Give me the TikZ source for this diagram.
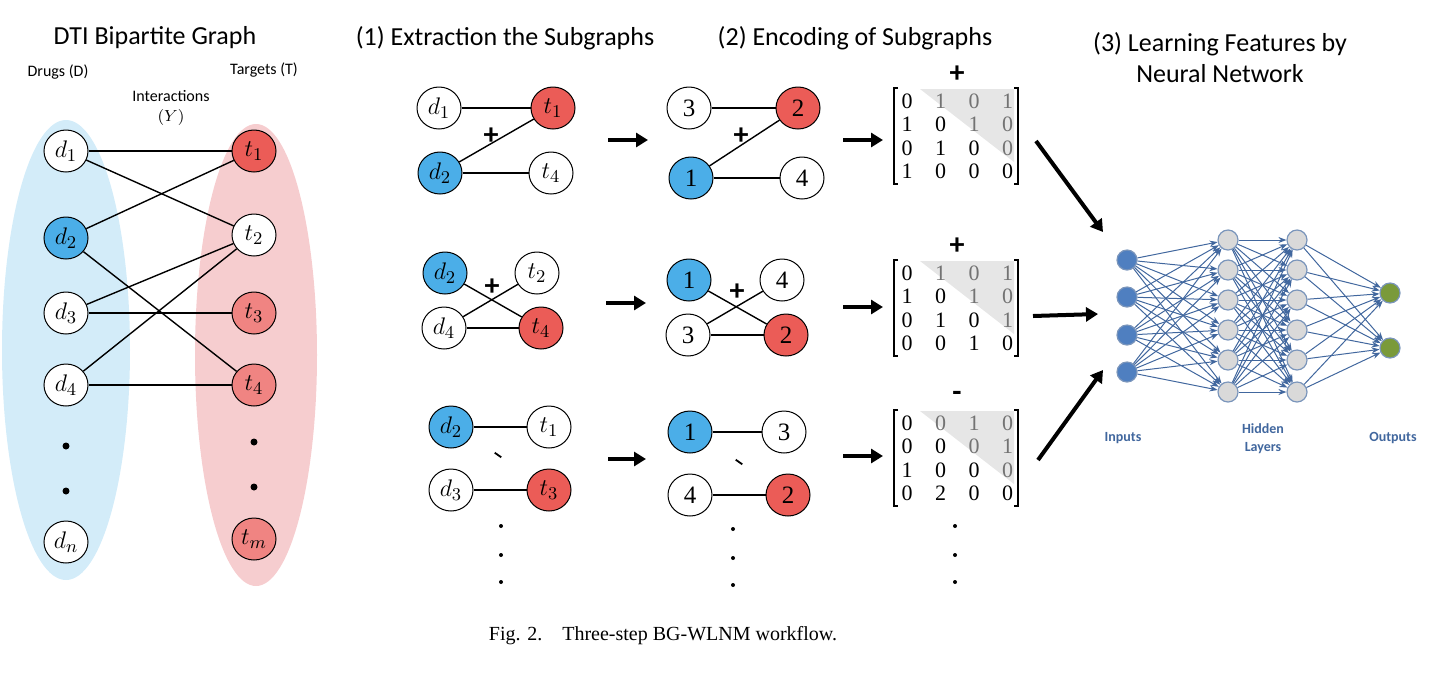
\documentclass[tikz,border=0pt]{standalone}
\usepackage{fontspec}
\setmainfont{Carlito}
\newfontfamily\capfont{Liberation Serif}
\usepackage{amsmath}
\usetikzlibrary{arrows.meta,shapes.geometric}
\definecolor{drugblue}{HTML}{4BAEE8}
\definecolor{tgtred}{HTML}{EB5C57}
\definecolor{tgtpink}{HTML}{F08482}
\definecolor{setblue}{HTML}{D3ECF9}
\definecolor{setpink}{HTML}{F6CDCF}
\definecolor{nnblue}{HTML}{4F7FC0}
\definecolor{nnedge}{HTML}{41679E}
\definecolor{nngray}{HTML}{D9D9D9}
\definecolor{nngreen}{HTML}{7A9A3A}
\definecolor{triag}{HTML}{E6E6E6}
\tikzset{
  vert/.style={ellipse, draw, line width=0.5pt, minimum width=22pt, minimum height=21pt, inner sep=0pt, font=\capfont\fontsize{12.5}{14}\selectfont},
  drug/.style={vert, fill=drugblue},
  tgt/.style={vert, fill=tgtred},
  tgtl/.style={vert, fill=tgtpink},
  plain/.style={vert, fill=white},
  link/.style={line width=0.7pt},
  title/.style={font=\fontsize{13}{15.5}\selectfont, align=center},
  small/.style={font=\fontsize{8}{10}\selectfont, align=center},
  bigarrow/.style={-{Triangle[length=6pt,width=7pt]}, line width=2pt},
  entry/.style={font=\capfont\fontsize{11}{12}\selectfont, inner sep=0pt},
  sign/.style={font=\fontsize{15}{16}\selectfont\bfseries, inner sep=0pt},
  tick/.style={inner sep=0pt, rotate=-35},
  neuron/.style={circle, draw=nnedge!70, line width=0.6pt, minimum size=10pt, inner sep=0pt},
  syn/.style={-{Stealth[length=4pt]}, draw=nnedge, line width=0.5pt},
  dot/.style={circle, fill=black, inner sep=0pt, minimum size=2pt},
  bdot/.style={circle, fill=black, inner sep=0pt, minimum size=3.5pt}
}
\begin{document}
\begin{tikzpicture}[x=0.5pt, y=-0.5pt]
\useasboundingbox (0,0) rectangle (1446,682);

% bipartite graph
\fill[setblue] (66,350) ellipse [x radius=64, y radius=230];
\fill[setpink] (256,355) ellipse [x radius=61, y radius=231];
\node[title] (tDTI) at (155,38) {DTI Bipartite Graph};
\node[small] (lD) at (58,72) {Drugs (D)};
\node[small] (lT) at (264,70) {Targets (T)};
\node[small] (lY) at (171,108) {Interactions\\$(Y)$};

\node[plain] (d1) at (66,151) {$d_1$};
\node[drug]  (d2) at (66,238) {$d_2$};
\node[plain] (d3) at (66,313) {$d_3$};
\node[plain] (d4) at (66,385) {$d_4$};
\node[plain] (dn) at (66,542) {$d_n$};
\node[bdot] (dd1) at (66,446) {};
\node[bdot] (dd2) at (66,491) {};
\node[tgt]   (t1) at (254,151) {$t_1$};
\node[plain] (t2) at (254,235) {$t_2$};
\node[tgtl]  (t3) at (254,313) {$t_3$};
\node[tgtl]  (t4) at (254,385) {$t_4$};
\node[tgtl]  (tm) at (254,539) {$t_m$};
\node[bdot] (td1) at (254,442) {};
\node[bdot] (td2) at (254,487) {};
\foreach \a/\b in {d1/t1,d1/t2,d2/t1,d2/t4,d3/t2,d3/t3,d4/t2,d4/t4}
  \draw[link] (\a) -- (\b);

% (1) extraction
\node[title] (t1st) at (505,38) {(1) Extraction the Subgraphs};
\node[plain] (a1) at (439,108) {$d_1$};
\node[tgt]   (a2) at (553,108) {$t_1$};
\node[drug]  (a3) at (440,173) {$d_2$};
\node[plain] (a4) at (551,173) {$t_4$};
\draw[link] (a1) -- (a2); \draw[link] (a3) -- (a2); \draw[link] (a3) -- (a4);
\node[sign] (ap) at (491,136) {+};

\node[drug]  (b1) at (445,273) {$d_2$};
\node[plain] (b2) at (537,273) {$t_2$};
\node[plain] (b3) at (444,328) {$d_4$};
\node[tgt]   (b4) at (541,328) {$t_4$};
\draw[link] (b1) -- (b4); \draw[link] (b3) -- (b2); \draw[link] (b3) -- (b4);
\node[sign] (bp) at (492,287) {+};

\node[drug]  (c1) at (451,427) {$d_2$};
\node[plain] (c2) at (549,427) {$t_1$};
\node[plain] (c3) at (451,490) {$d_3$};
\node[tgt]   (c4) at (549,490) {$t_3$};
\draw[link] (c1) -- (c2); \draw[link] (c3) -- (c4);
\node[tick] (ct) at (498,455) {\rule{4pt}{0.9pt}};
\foreach \y [count=\i] in {526,555,582} \node[dot] (cd\i) at (501,\y) {};

% (2) encoding
\node[title] (t2nd) at (855,38) {(2) Encoding of Subgraphs};
\node[plain] (e1) at (689,108) {3};
\node[tgt]   (e2) at (798,108) {2};
\node[drug]  (e3) at (691,178) {1};
\node[plain] (e4) at (802,178) {4};
\draw[link] (e1) -- (e2); \draw[link] (e3) -- (e2); \draw[link] (e3) -- (e4);
\node[sign] (ep) at (741,136) {+};

\node[drug]  (f1) at (689,280) {1};
\node[plain] (f2) at (782,280) {4};
\node[plain] (f3) at (688,335) {3};
\node[tgt]   (f4) at (786,335) {2};
\draw[link] (f1) -- (f4); \draw[link] (f3) -- (f2); \draw[link] (f3) -- (f4);
\node[sign] (fp) at (737,292) {+};

\node[drug]  (g1) at (690,432) {1};
\node[plain] (g2) at (784,432) {3};
\node[plain] (g3) at (690,495) {4};
\node[tgt]   (g4) at (788,495) {2};
\draw[link] (g1) -- (g2); \draw[link] (g3) -- (g4);
\node[tick] (gt) at (739,462) {\rule{4pt}{0.9pt}};
\foreach \y [count=\i] in {529,558,585} \node[dot] (gd\i) at (733,\y) {};

% arrows between steps
\coordinate (s1a) at (608,140); \coordinate (s1b) at (648,140);
\coordinate (s2a) at (606,303); \coordinate (s2b) at (646,303);
\coordinate (s3a) at (608,459); \coordinate (s3b) at (646,459);
\coordinate (m1a) at (843,140); \coordinate (m1b) at (883,140);
\coordinate (m2a) at (843,307); \coordinate (m2b) at (883,307);
\coordinate (m3a) at (843,456); \coordinate (m3b) at (883,456);
\foreach \p in {s1,s2,s3,m1,m2,m3} \draw[bigarrow] (\p a) -- (\p b);

% matrices
\foreach \name/\top/\sg/\rows in {
    M1/101/+/{0,1,0,1,1,0,1,0,0,1,0,0,1,0,0,0},
    M2/273/+/{0,1,0,1,1,0,1,0,0,1,0,1,0,0,1,0},
    M3/423/-/{0,0,1,0,0,0,0,1,1,0,0,0,0,2,0,0}}{
  \fill[triag] (920,\top-12) -- (1014,\top-12) -- (1014,\top+61) -- cycle;
  \draw[line width=0.6pt] (898,\top-13) -- (894,\top-13) -- (894,\top+83) -- (898,\top+83);
  \draw[line width=0.6pt] (1014,\top-13) -- (1018,\top-13) -- (1018,\top+83) -- (1014,\top+83);
  \node[sign] (\name s) at (957,\top-27) {\sg};
  \foreach \v [count=\k from 0] in \rows {
    \pgfmathtruncatemacro{\r}{int(\k/4)}
    \pgfmathtruncatemacro{\c}{mod(\k,4)}
    \ifnum\c>\r
      \node[entry, text=black!55] (\name-\k) at (907+33.5*\c,\top+23.5*\r) {\v};
    \else
      \node[entry] (\name-\k) at (907+33.5*\c,\top+23.5*\r) {\v};
    \fi
  }
}
\foreach \y [count=\i] in {526,555,582} \node[dot] (md\i) at (955,\y) {};

% arrows into network
\coordinate (n1a) at (1036,141); \coordinate (n1b) at (1103,232);
\coordinate (n2a) at (1033,316); \coordinate (n2b) at (1098,314);
\coordinate (n3a) at (1038,460); \coordinate (n3b) at (1103,370);
\foreach \p in {n1,n2,n3} \draw[bigarrow] (\p a) -- (\p b);

% (3) neural network
\node[title] (t3rd) at (1220,58) {(3) Learning Features by\\Neural Network};
\foreach \y [count=\i] in {260,297,335,372}
  \node[neuron, fill=nnblue] (in\i) at (1127,\y) {};
\foreach \y [count=\i] in {240,270,300,330,360,392} {
  \node[neuron, fill=nngray] (ha\i) at (1228,\y) {};
  \node[neuron, fill=nngray] (hb\i) at (1297,\y) {};
}
\foreach \y [count=\i] in {293,348}
  \node[neuron, fill=nngreen] (out\i) at (1390,\y) {};
\foreach \i in {1,...,4} \foreach \j in {1,...,6} \draw[syn] (in\i) -- (ha\j);
\foreach \i in {1,...,6} \foreach \j in {1,...,6} \draw[syn] (ha\i) -- (hb\j);
\foreach \i in {1,...,6} \foreach \j in {1,2} \draw[syn] (hb\i) -- (out\j);
\node[small, text=nnedge, font=\fontsize{7}{9}\selectfont\bfseries] (lin) at (1123,438) {Inputs};
\node[small, text=nnedge, font=\fontsize{7}{9}\selectfont\bfseries] (lhid) at (1263,439) {Hidden\\Layers};
\node[small, text=nnedge, font=\fontsize{7}{9}\selectfont\bfseries] (lout) at (1393,438) {Outputs};

% caption
\node[font=\capfont\fontsize{10}{12}\selectfont] (cap) at (663,636) {Fig. 2.\quad Three-step BG-WLNM workflow.};
\end{tikzpicture}
\end{document}
